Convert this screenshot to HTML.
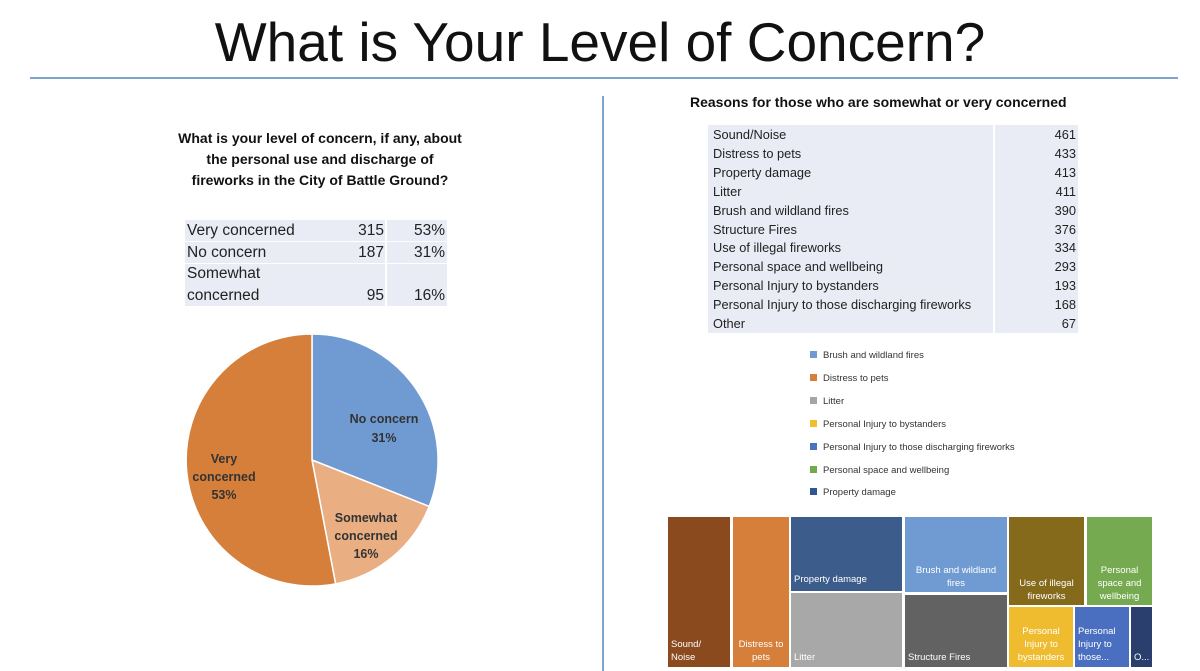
<!DOCTYPE html>
<html><head><meta charset="utf-8"><style>
body{margin:0;width:1200px;height:671px;background:#fff;font-family:"Liberation Sans",sans-serif;position:relative;overflow:hidden}
.a{position:absolute}
.t{font-size:12.8px;color:#222;line-height:18.9px}
.tm{position:absolute;color:#fff;font-size:9.5px;line-height:13px;box-sizing:border-box;padding:3px}
.lg{position:absolute;left:810px;font-size:9.5px;color:#333}
.lg i{display:inline-block;width:7px;height:7px;margin-right:6px;vertical-align:0px}
</style></head><body>
<div class="a" style="left:0;width:1200px;top:10px;text-align:center;font-size:55px;color:#111;font-family:'Liberation Sans',sans-serif;font-weight:300">What is Your Level of Concern?</div>
<div class="a" style="left:30px;top:77px;width:1148px;height:2px;background:#7fa3cf"></div>
<div class="a" style="left:602px;top:96px;width:2px;height:575px;background:#7fa3cf"></div>

<div class="a" style="left:120px;top:128px;width:400px;text-align:center;font-weight:bold;font-size:14px;line-height:21px;color:#111">What is your level of concern, if any, about<br>the personal use and discharge of<br>fireworks in the City of Battle Ground?</div>

<div class="a" style="left:185px;top:220px;width:262px;height:86px;background:#e9ecf5"></div>
<div class="a" style="left:385px;top:220px;width:2px;height:86px;background:#fff"></div>
<div class="a" style="left:185px;top:241px;width:262px;height:1px;background:#fff"></div>
<div class="a" style="left:185px;top:263px;width:262px;height:1px;background:#fff"></div>
<div class="a" style="left:187px;top:220px;font-size:15.5px;line-height:21.5px;color:#222">Very concerned<br>No concern<br>Somewhat<br>concerned</div>
<div class="a" style="left:330px;width:54px;text-align:right;top:220px;font-size:15.5px;line-height:21.5px;color:#222">315<br>187<br><br>95</div>
<div class="a" style="left:390px;width:55px;text-align:right;top:220px;font-size:15.5px;line-height:21.5px;color:#222">53%<br>31%<br><br>16%</div>

<svg class="a" style="left:0;top:0" width="600" height="671">
<path d="M312,460 L312,334 A126,126 0 0,1 429.2,506.4 Z" fill="#6f9bd2" stroke="#fff" stroke-width="1.5"/>
<path d="M312,460 L429.2,506.4 A126,126 0 0,1 335.6,583.8 Z" fill="#e9ae82" stroke="#fff" stroke-width="1.5"/>
<path d="M312,460 L335.6,583.8 A126,126 0 1,1 312,334 Z" fill="#d57f3b" stroke="#fff" stroke-width="1.5"/>
<g font-family="Liberation Sans" font-weight="bold" font-size="12.5" fill="#333" text-anchor="middle">
<text x="384" y="423">No concern</text><text x="384" y="442">31%</text>
<text x="366" y="522">Somewhat</text><text x="366" y="540">concerned</text><text x="366" y="558">16%</text>
<text x="224" y="463">Very</text><text x="224" y="481">concerned</text><text x="224" y="499">53%</text>
</g></svg>

<div class="a" style="left:690px;top:94px;font-weight:bold;font-size:14px;color:#111">Reasons for those who are somewhat or very concerned</div>
<div class="a" style="left:708px;top:125px;width:370px;height:208px;background:#e9ecf5"></div>
<div class="a" style="left:993px;top:125px;width:2px;height:208px;background:#fff"></div>
<div class="a t" style="left:713px;top:126px">Sound/Noise<br>Distress to pets<br>Property damage<br>Litter<br>Brush and wildland fires<br>Structure Fires<br>Use of illegal fireworks<br>Personal space and wellbeing<br>Personal Injury to bystanders<br>Personal Injury to those discharging fireworks<br>Other</div>
<div class="a t" style="left:1000px;width:76px;text-align:right;top:126px">461<br>433<br>413<br>411<br>390<br>376<br>334<br>293<br>193<br>168<br>67</div>

<div class="lg" style="top:350px"><i style="background:#6f9bd2"></i>Brush and wildland fires</div>
<div class="lg" style="top:373px"><i style="background:#d57f3b"></i>Distress to pets</div>
<div class="lg" style="top:396px"><i style="background:#a5a5a5"></i>Litter</div>
<div class="lg" style="top:419px"><i style="background:#f0bf2c"></i>Personal Injury to bystanders</div>
<div class="lg" style="top:442px"><i style="background:#4a72c2"></i>Personal Injury to those discharging fireworks</div>
<div class="lg" style="top:465px"><i style="background:#72a94e"></i>Personal space and wellbeing</div>
<div class="lg" style="top:487px"><i style="background:#2f5595"></i>Property damage</div>

<div class="tm" style="left:668px;top:517px;width:62px;height:150px;background:#8b4a1e;display:flex;align-items:flex-end">Sound/<br>Noise</div>
<div class="tm" style="left:733px;top:517px;width:56px;height:150px;background:#d57f3b;display:flex;align-items:flex-end;justify-content:center;text-align:center">Distress to<br>pets</div>
<div class="tm" style="left:791px;top:517px;width:111px;height:74px;background:#3c5c8c;display:flex;align-items:flex-end;padding-bottom:5px">Property damage</div>
<div class="tm" style="left:791px;top:593px;width:111px;height:74px;background:#a8a8a8;display:flex;align-items:flex-end">Litter</div>
<div class="tm" style="left:905px;top:517px;width:102px;height:75px;background:#6f9bd2;display:flex;align-items:flex-end;justify-content:center;text-align:center;padding-bottom:2px">Brush and wildland<br>fires</div>
<div class="tm" style="left:905px;top:595px;width:102px;height:72px;background:#626262;display:flex;align-items:flex-end">Structure Fires</div>
<div class="tm" style="left:1009px;top:517px;width:75px;height:88px;background:#856a1c;display:flex;align-items:flex-end;justify-content:center;text-align:center;padding-bottom:2px">Use of illegal<br>fireworks</div>
<div class="tm" style="left:1087px;top:517px;width:65px;height:88px;background:#76aa50;display:flex;align-items:flex-end;justify-content:center;text-align:center;padding-bottom:2px">Personal<br>space and<br>wellbeing</div>
<div class="tm" style="left:1009px;top:607px;width:64px;height:60px;background:#efbc2f;display:flex;align-items:flex-end;justify-content:center;text-align:center">Personal<br>Injury to<br>bystanders</div>
<div class="tm" style="left:1075px;top:607px;width:54px;height:60px;background:#4a6fc0;display:flex;align-items:flex-end">Personal<br>Injury to<br>those...</div>
<div class="tm" style="left:1131px;top:607px;width:21px;height:60px;background:#2b3f6e;display:flex;align-items:flex-end">O...</div>
</body></html>
